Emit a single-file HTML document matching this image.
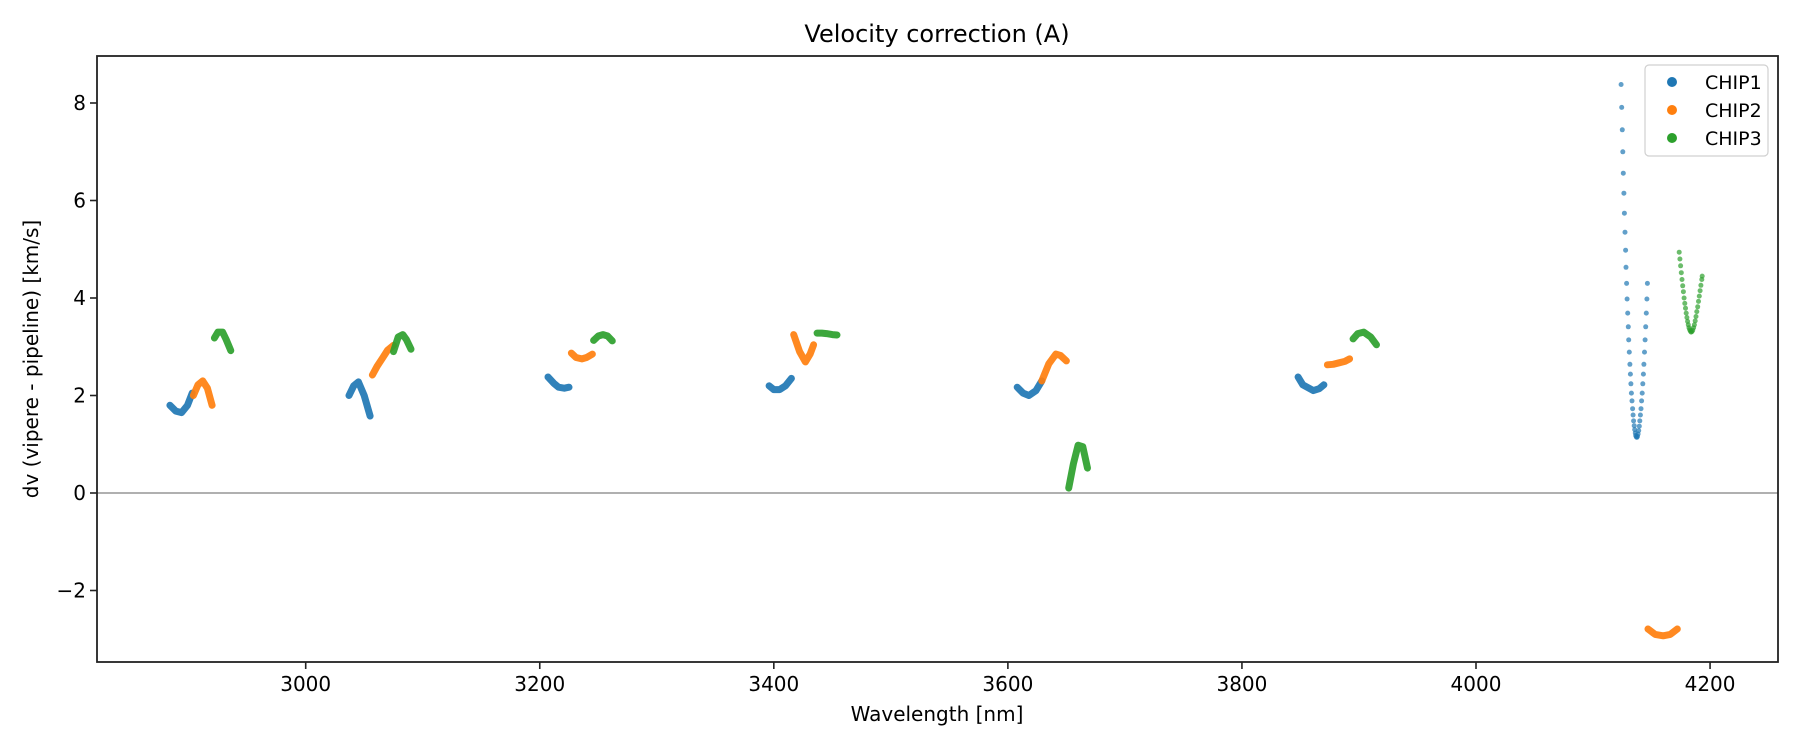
<!DOCTYPE html>
<html><head><meta charset="utf-8"><style>
html,body{margin:0;padding:0;background:#fff;}
svg{display:block;font-family:"DejaVu Sans","Liberation Sans",sans-serif;}
</style></head><body>
<svg id="chart" width="1800" height="750" viewBox="0 0 1800 750">
<rect x="0" y="0" width="1800" height="750" fill="#fff"/>
<text x="937" y="42" font-size="24" text-anchor="middle" fill="#000">Velocity correction (A)</text>
<g id="plot"></g>
<g id="axes"></g>
<text x="937" y="721" font-size="20" text-anchor="middle" fill="#000">Wavelength [nm]</text>
<text transform="translate(38,359) rotate(-90)" font-size="20" text-anchor="middle" fill="#000">dv (vipere - pipeline) [km/s]</text>
<g>
<rect x="1645" y="65" width="123" height="91" rx="4" fill="#fff" fill-opacity="0.8" stroke="#d0d0d0" stroke-width="1.2"/>
<circle cx="1672" cy="82" r="5" fill="#1f77b4"/>
<text x="1705" y="89" font-size="19" fill="#000">CHIP1</text>
<circle cx="1672" cy="110" r="5" fill="#ff7f0e"/>
<text x="1705" y="117" font-size="19" fill="#000">CHIP2</text>
<circle cx="1672" cy="138" r="5" fill="#2ca02c"/>
<text x="1705" y="145" font-size="19" fill="#000">CHIP3</text>
</g>
</svg>
<script>
const xTicks = [3000, 3200, 3400, 3600, 3800, 4000, 4200];
const yTicks = [-2, 0, 2, 4, 6, 8];
const chip1SegX = [[2884,2889,2894,2899,2903],[3037,3041,3045,3050,3055],[3207,3212,3216,3221,3225],[3396,3400,3405,3410,3415],[3608,3613,3618,3624,3629],[3848,3852,3861,3866,3870]];
const chip1SegY = [[1.8,1.68,1.65,1.8,2.05],[2.0,2.2,2.28,2.0,1.58],[2.38,2.25,2.17,2.15,2.17],[2.2,2.12,2.12,2.2,2.35],[2.17,2.05,2.0,2.1,2.3],[2.38,2.22,2.1,2.14,2.22]];
const chip2SegX = [[2904,2908,2912,2916,2920],[3057,3061,3066,3070,3075],[3227,3231,3236,3240,3245],[3417,3422,3427,3431,3434],[3629,3635,3641,3645,3650],[3873,3878,3883,3888,3892]];
const chip2SegY = [[2.0,2.22,2.3,2.15,1.8],[2.42,2.6,2.78,2.93,3.03],[2.87,2.78,2.75,2.78,2.85],[3.25,2.9,2.69,2.85,3.04],[2.3,2.65,2.85,2.82,2.71],[2.63,2.64,2.67,2.7,2.75]];
const chip2BottomX = [4147,4153,4160,4166,4172];
const chip2BottomY = [-2.79,-2.9,-2.93,-2.9,-2.79];
const chip3SegX = [[2922,2925,2929,2932,2936],[3075,3079,3083,3086,3090],[3246,3250,3254,3258,3262],[3437,3441,3445,3450,3454],[3652,3656,3660,3664,3668],[3895,3899,3904,3910,3915]];
const chip3SegY = [[3.18,3.3,3.3,3.15,2.92],[2.9,3.2,3.25,3.15,2.95],[3.13,3.22,3.25,3.22,3.12],[3.28,3.28,3.27,3.25,3.24],[0.1,0.6,0.98,0.95,0.51],[3.16,3.27,3.3,3.2,3.04]];
const chip1DotX = [4124.0,4124.5,4125.0,4125.4,4125.9,4126.4,4126.8,4127.3,4127.8,4128.2,4128.7,4129.1,4129.6,4130.1,4130.5,4131.0,4131.5,4131.9,4132.4,4132.8,4133.3,4133.8,4134.2,4134.7,4135.2,4135.6,4136.1,4136.5,4137.0,4137.5,
 4138.0,4138.5,4139.0,4139.5,4140.0,4140.5,4141.0,4141.5,4142.0,4142.5,4143.0,4143.5,4144.0,4144.5,4145.0,4145.5,4146.0,4146.5];
const chip1DotY = [8.38,7.91,7.45,7.0,6.56,6.15,5.74,5.35,4.98,4.63,4.3,3.98,3.69,3.41,3.14,2.89,2.64,2.44,2.24,2.05,1.89,1.73,1.6,1.48,1.38,1.3,1.23,1.18,1.15,1.14,
 1.16,1.21,1.28,1.37,1.48,1.6,1.73,1.89,2.05,2.24,2.44,2.64,2.89,3.14,3.41,3.69,3.98,4.3];
const chip3DotX = [4173.6,4174.2,4174.8,4175.4,4176,4176.6,4177.2,4177.8,4178.4,4179,4179.6,4180.2,4180.8,4181.4,4182,4182.6,4183.2,4183.8,4184.5,4185.2,4185.9,4186.6,4187.3,4188,4188.7,4189.4,4190.1,4190.8,4191.5,4192.2,4192.9,4193.3];
const chip3DotY = [4.94,4.8,4.66,4.52,4.38,4.25,4.13,4.0,3.89,3.79,3.69,3.6,3.52,3.45,3.39,3.35,3.32,3.3,3.31,3.34,3.39,3.45,3.53,3.62,3.72,3.82,3.93,4.04,4.15,4.26,4.38,4.45];

const L=97,R=1778,T=56,B=662;
const X = v => 305.7 + (v-3000)*1.1703;
const Y = v => 493 - v*48.75;
const NS="http://www.w3.org/2000/svg";
const plot=document.getElementById('plot'), axes=document.getElementById('axes');
function mk(tag, attrs, parent){const e=document.createElementNS(NS,tag);for(const k in attrs)e.setAttribute(k,attrs[k]);parent.appendChild(e);return e;}

const zl=mk('line',{x1:L,x2:R,y1:Y(0),y2:Y(0),stroke:'#808080','stroke-width':1.2},plot);



function drawSegs(xs, ys, color, name){
  xs.forEach((sx,i)=>{
    const pts=sx.map((v,j)=>X(v).toFixed(1)+','+Y(ys[i][j]).toFixed(1)).join(' ');
    const p=mk('polyline',{points:pts,fill:'none',stroke:color,'stroke-width':7,'stroke-linecap':'round','stroke-linejoin':'round','stroke-opacity':0.92},plot);
    
    
  });
}
drawSegs(chip1SegX,chip1SegY,'#1f77b4','chip1');
drawSegs(chip2SegX,chip2SegY,'#ff7f0e','chip2');
drawSegs([chip2BottomX],[chip2BottomY],'#ff7f0e','chip2-low');
drawSegs(chip3SegX,chip3SegY,'#2ca02c','chip3');
function drawDots(xs, ys, color, name){
  xs.forEach((v,i)=>{
    const c=mk('circle',{cx:X(v).toFixed(1),cy:Y(ys[i]).toFixed(1),r:2.5,fill:color,'fill-opacity':0.7},plot);
    
    
  });
}
drawDots(chip1DotX,chip1DotY,'#1f77b4','chip1');
drawDots(chip3DotX,chip3DotY,'#2ca02c','chip3');

const frame=mk('rect',{x:L,y:T,width:R-L,height:B-T,fill:'none',stroke:'#222','stroke-width':1.8},axes);


xTicks.forEach(t=>{
  const l=mk('line',{x1:X(t),x2:X(t),y1:B,y2:B+7,stroke:'#222','stroke-width':1.6},axes);
  
  
  const tx=mk('text',{x:X(t),y:B+29,'font-size':20,'text-anchor':'middle',fill:'#000'},axes);
  tx.textContent=t;
  
  
});
yTicks.forEach(t=>{
  const l=mk('line',{x1:L-7,x2:L,y1:Y(t),y2:Y(t),stroke:'#222','stroke-width':1.6},axes);
  
  
  const tx=mk('text',{x:L-11,y:Y(t)+7,'font-size':20,'text-anchor':'end',fill:'#000'},axes);
  tx.textContent=t<0?'\u2212'+Math.abs(t):String(t);
  
  
});
</script>
</body></html>
